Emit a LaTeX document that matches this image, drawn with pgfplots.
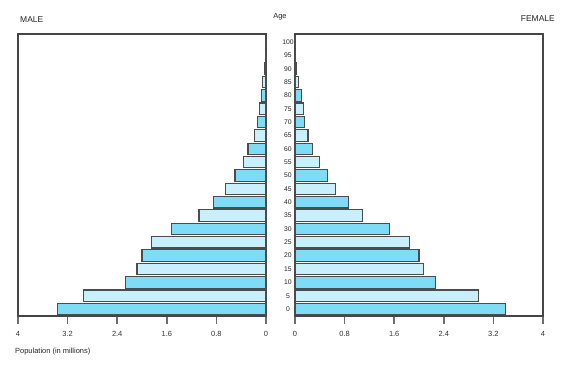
\documentclass[border=0pt]{standalone}
\usepackage{fontspec}
\setmainfont{Liberation Sans}
\usepackage{pgfplots}
\pgfplotsset{compat=1.18}
\definecolor{barA}{RGB}{127,220,247}
\definecolor{barB}{RGB}{200,240,252}
\definecolor{frame}{RGB}{70,70,70}
\definecolor{tickc}{RGB}{110,110,110}
\pgfplotsset{
  pyr/.style={
    width=248bp, height=282bp, scale only axis,
    xmin=0, xmax=4, ymin=-2.6, ymax=103,
    xbar, bar width=4.3, bar shift=0pt,
    xtick={0,0.8,1.6,2.4,3.2,4},
    xticklabels={0,0.8,1.6,2.4,3.2,4},
    xtick pos=bottom, tick align=outside,
    major tick length=8bp,
    x tick style={draw=tickc, line width=1.5pt},
    xticklabel style={font=\fontsize{7.5}{8}\selectfont, text=black!80, yshift=-4bp},
    /pgf/number format/assume math mode=true,
    axis line style={draw=frame, line width=1.2pt},
    every axis plot/.append style={draw=black!70, line width=1.1pt},
    clip=false,
  }
}
\begin{document}
\begin{tikzpicture}
\useasboundingbox (-18bp,-52bp) rectangle (560bp,316bp);
\begin{axis}[pyr, at={(0,0)}, anchor=south west, x dir=reverse,
  ytick={0,5,...,100}, yticklabel pos=right, y tick style={draw=none},
  yticklabel style={anchor=center, xshift=14bp, font=\fontsize{6.8}{7}\selectfont, text=black!85}]
\addplot[fill=barA] coordinates {(3.37,0) (2.26,10) (2.0,20) (1.52,30) (0.85,40) (0.5,50) (0.29,60) (0.13,70) (0.07,80) (0.02,90) (0.005,100)};
\addplot[fill=barB] coordinates {(2.95,5) (2.08,15) (1.84,25) (1.08,35) (0.66,45) (0.37,55) (0.19,65) (0.1,75) (0.05,85) (0.01,95)};
\end{axis}
\begin{axis}[pyr, at={(277bp,0)}, anchor=south west, ytick=\empty]
\addplot[fill=barA] coordinates {(3.39,0) (2.26,10) (2.0,20) (1.53,30) (0.87,40) (0.52,50) (0.28,60) (0.16,70) (0.1,80) (0.02,90) (0.005,100)};
\addplot[fill=barB] coordinates {(2.96,5) (2.07,15) (1.85,25) (1.09,35) (0.66,45) (0.39,55) (0.21,65) (0.14,75) (0.05,85) (0.01,95)};
\end{axis}
\node[anchor=west, font=\fontsize{8.5}{9}\selectfont, text=black!85, inner sep=0pt] at (2bp,296bp) {MALE};
\node[anchor=east, font=\fontsize{8.5}{9}\selectfont, text=black!85, inner sep=0pt] at (537bp,297bp) {FEMALE};
\node[anchor=center, font=\fontsize{7.5}{8}\selectfont, text=black!85, inner sep=0pt] at (262bp,299bp) {Age};
\node[anchor=west, font=\fontsize{7.5}{8}\selectfont, text=black!85, inner sep=0pt] at (-3bp,-36bp) {Population (in millions)};
\end{tikzpicture}
\end{document}
